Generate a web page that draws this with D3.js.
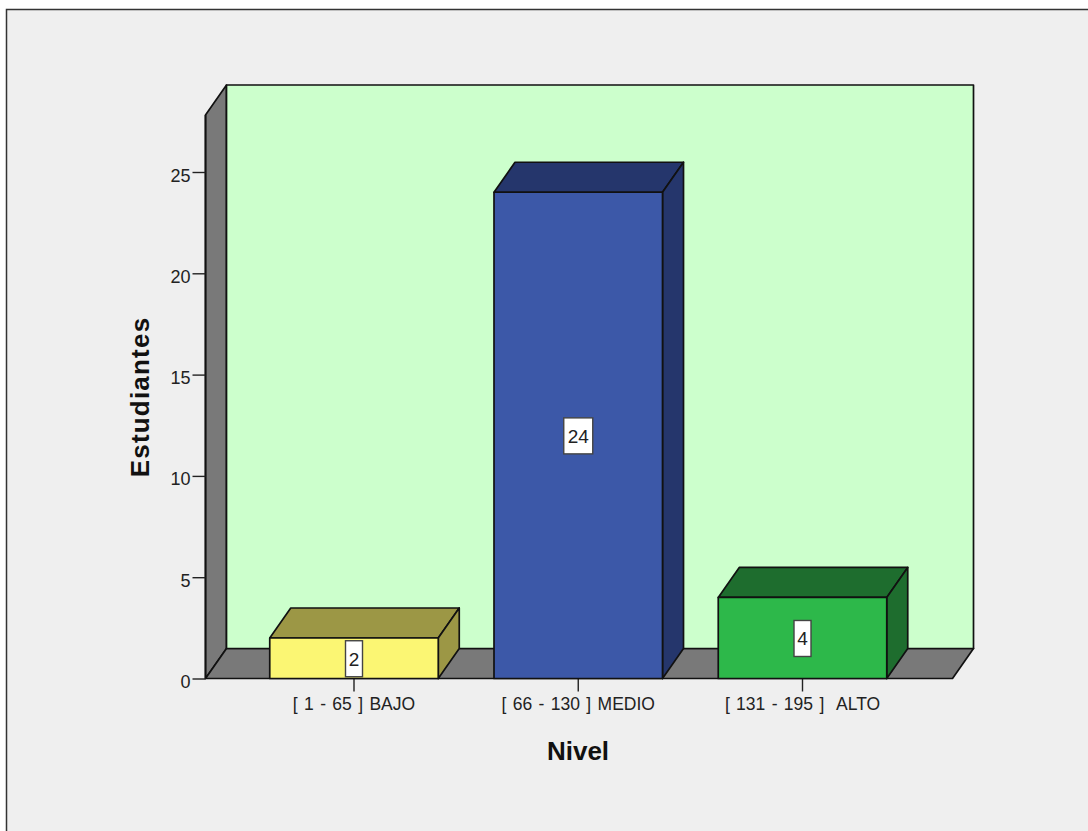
<!DOCTYPE html>
<html>
<head>
<meta charset="utf-8">
<script src="https://cdn.jsdelivr.net/npm/d3@7"></script>
<style>
  html, body { margin: 0; padding: 0; background: #fff; }
  svg { display: block; font-family: "Liberation Sans", Arial, sans-serif; }
</style>
</head>
<body>
<script>
const categories = ['[ 1 - 65 ] BAJO', '[ 66 - 130 ] MEDIO', '[ 131 - 195 ]  ALTO'];
const values = [2, 24, 4];
const front = ['#fbf673', '#3c58a8', '#2db84a'];
const shade = ['#9c9745', '#25366c', '#1e6d2e'];
const yTicks = [0, 5, 10, 15, 20, 25];

const width = 1088, height = 831;
const dx = 21, dy = 30;          // depth of the 3d box

const svg = d3.select('body').append('svg').attr('width', width).attr('height', height);

// panel background
svg.append('rect').attr('width', width).attr('height', height).attr('fill', '#fff');
svg.append('rect').attr('x', 6.5).attr('y', 9.5).attr('width', width).attr('height', height)
  .attr('fill', '#efefef').attr('stroke', '#333').attr('stroke-width', 1.5);

const xc = d3.scalePoint().domain(categories).range([354, 802.5]);
const barW = 168.5;
const y = d3.scaleLinear().domain([0, 25]).range([678.5, 172]);
const floorY = y(0), topY = 115;
const wallL = 205.5, wallR = 952.5;

const line = d3.line();
const poly = (pts, fill) => svg.append('path')
  .attr('d', line(pts) + 'Z').attr('fill', fill)
  .attr('stroke', '#111').attr('stroke-width', 1.7).attr('stroke-linejoin', 'round');

// walls and floor
poly([[wallL, floorY], [wallL + dx, floorY - dy], [wallL + dx, topY - dy], [wallL, topY]], '#797979');
poly([[wallL, floorY], [wallR, floorY], [wallR + dx, floorY - dy], [wallL + dx, floorY - dy]], '#797979');
poly([[wallL + dx, floorY - dy], [wallR + dx, floorY - dy], [wallR + dx, topY - dy], [wallL + dx, topY - dy]], '#ccffcc');

// y axis
const yAxis = d3.axisLeft(y).tickValues(yTicks).tickSize(13).tickPadding(2);
const gy = svg.append('g').attr('transform', `translate(${wallL},0)`).call(yAxis);
gy.select('.domain').attr('stroke', '#111').attr('stroke-width', 1.7).attr('d', `M0,${topY}V${floorY}`);
gy.selectAll('line').attr('stroke', '#222').attr('stroke-width', 1.4);
gy.selectAll('text').attr('font-size', 18).attr('fill', '#222').attr('dy', '0.5em');

// x axis
const xAxis = d3.axisBottom(xc).tickSize(13).tickPadding(6);
const gx = svg.append('g').attr('transform', `translate(-0.5,${floorY})`).call(xAxis);
gx.select('.domain').remove();
gx.selectAll('line').attr('stroke', '#222').attr('stroke-width', 1.4);
gx.selectAll('text').attr('font-size', 17.5).attr('fill', '#222')
  .style('white-space', 'pre').style('word-spacing', '1.5px');

// bars
categories.forEach((c, i) => {
  const cx = xc(c), x0 = cx - barW / 2, x1 = cx + barW / 2, yv = y(values[i]);
  poly([[x0, yv], [x0 + dx, yv - dy], [x1 + dx, yv - dy], [x1, yv]], shade[i]);
  poly([[x1, yv], [x1 + dx, yv - dy], [x1 + dx, floorY - dy], [x1, floorY]], shade[i]);
  poly([[x0, yv], [x1, yv], [x1, floorY], [x0, floorY]], front[i]);

  // value label in the middle of the bar
  const ym = y(values[i] / 2) + 0.5;
  const s = String(values[i]);
  const w = s.length > 1 ? 29 : 17;
  svg.append('rect').attr('x', cx - w / 2).attr('y', ym - 18).attr('width', w).attr('height', 36)
    .attr('fill', '#fff').attr('stroke', '#444').attr('stroke-width', 1.4);
  svg.append('text').attr('x', cx).attr('y', ym + 7).attr('text-anchor', 'middle')
    .attr('font-size', 19).attr('fill', '#222').text(s);
});

// axis titles
svg.append('text').attr('x', 578).attr('y', 760).attr('text-anchor', 'middle')
  .attr('font-size', 26).attr('font-weight', 'bold').attr('fill', '#111').text('Nivel');
svg.append('text').attr('transform', 'translate(149,397) rotate(-90)').attr('text-anchor', 'middle')
  .attr('font-size', 26).attr('letter-spacing', 1.2).attr('font-weight', 'bold').attr('fill', '#111').text('Estudiantes');
</script>
</body>
</html>
